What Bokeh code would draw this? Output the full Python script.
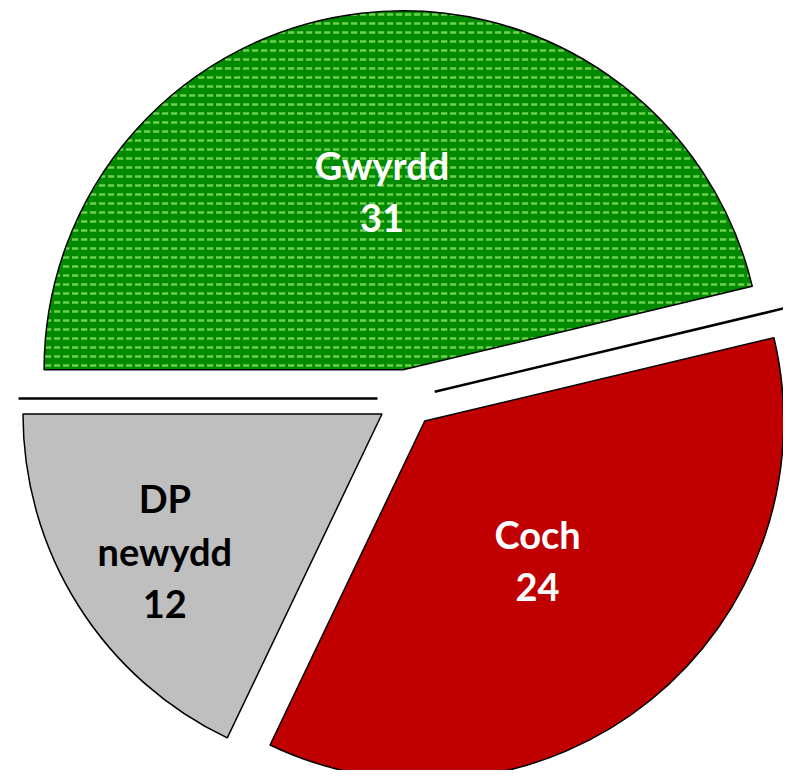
import numpy as np
from bokeh.plotting import figure
from bokeh.models import Range1d, ColumnDataSource
from bokeh.core.properties import value
from bokeh.embed import file_html
from bokeh.resources import INLINE

# ---- data ----
categories = ["Gwyrdd", "Coch", "DP newydd"]
values = [31, 24, 12]
label_lines = [["Gwyrdd", "31"], ["Coch", "24"], ["DP", "newydd", "12"]]

# ---- style ----
fill_colors = ["#008a00", "#c00000", "#bfbfbf"]
hatch_patterns = ["horizontal_dash", " ", " "]
text_colors = ["white", "white", "black"]
label_frac = [0.50, 0.50, 0.715]

W, H = 783, 770
p = figure(width=W, height=H, output_backend="svg", toolbar_location=None,
           x_range=Range1d(0, W), y_range=Range1d(-H, 0),
           min_border=0, outline_line_color=None)
p.axis.visible = False
p.grid.visible = False
p.background_fill_color = "white"

cx, cy = 406.0, -398.0   # pie centre
R = 359.0
explode = 29.0

total = float(sum(values))
cum = np.concatenate([[0], np.cumsum(values)])
ends = np.pi - cum[:-1] / total * 2 * np.pi
starts = np.pi - cum[1:] / total * 2 * np.pi
mids = (starts + ends) / 2

xs = cx + explode * np.cos(mids)
ys = cy + explode * np.sin(mids)

src = ColumnDataSource(dict(x=xs, y=ys, s=starts, e=ends, c=fill_colors, h=hatch_patterns))
p.wedge(x="x", y="y", radius=R, start_angle="s", end_angle="e", source=src,
        fill_color="c", line_color="black", line_width=1.5,
        hatch_pattern="h", hatch_color="#6fd14f", hatch_scale=9, hatch_weight=2.5)

# edge lines along the green slice's unexploded edges
for ang in (starts[0], ends[0]):
    p.segment(x0=[cx + explode * np.cos(ang)], y0=[cy + explode * np.sin(ang)],
              x1=[cx + (R + explode) * np.cos(ang)], y1=[cy + (R + explode) * np.sin(ang)],
              line_color="black", line_width=2.5)

# labels
lh = 53.0
for i in range(len(values)):
    lx = xs[i] + label_frac[i] * R * np.cos(mids[i])
    ly = ys[i] + label_frac[i] * R * np.sin(mids[i])
    n = len(label_lines[i])
    tys = [ly + (n - 1) / 2 * lh - k * lh for k in range(n)]
    p.text(x=[lx] * n, y=tys, text=label_lines[i], text_color=text_colors[i],
           text_font=value("Lato"), text_font_style="bold", text_font_size="38px",
           text_align="center", text_baseline="middle")

open("out.html", "w").write(file_html(p, INLINE))
